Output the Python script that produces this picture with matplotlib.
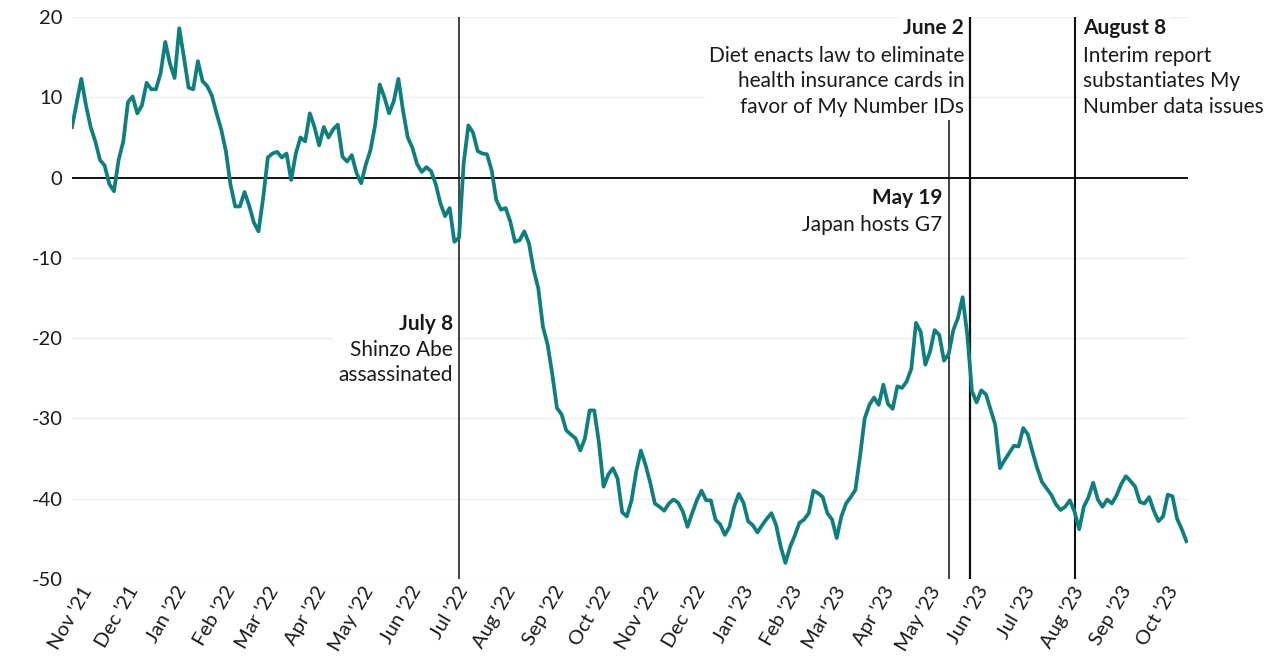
# import modules
import pandas as pd
import matplotlib
matplotlib.use('Agg')
import matplotlib.pyplot as plt
import matplotlib.transforms as mtrans

plt.close("all")
plt.rcParams['font.family'] = ['Lato', 'DejaVu Sans']
plt.rcParams['axes.unicode_minus'] = False

# series, every 3 days from Nov 1 2021
start = '2021-11-01'
values = [
    6.3, 9.3, 12.3, 9.0, 6.3, 4.5, 2.2, 1.5, -0.8, -1.7,
    2.2, 4.5, 9.4, 10.1, 8.0, 9.0, 11.8, 11.0, 11.0, 13.0,
    16.9, 14.2, 12.4, 18.6, 15.0, 11.2, 11.0, 14.5, 12.0, 11.4,
    10.2, 8.0, 6.0, 3.3, -0.9, -3.6, -3.6, -1.8, -3.5, -5.6,
    -6.7, -2.5, 2.5, 3.0, 3.2, 2.5, 3.0, -0.3, 3.0, 5.0,
    4.5, 8.0, 6.3, 4.0, 6.3, 5.0, 6.0, 6.6, 2.6, 2.0,
    2.8, 0.6, -0.7, 1.6, 3.4, 6.5, 11.6, 10.0, 8.0, 9.5,
    12.3, 8.3, 5.0, 3.7, 1.7, 0.7, 1.3, 0.8, -0.8, -3.2,
    -4.8, -3.8, -8.0, -7.5, 1.8, 6.5, 5.6, 3.3, 3.0, 2.9,
    0.9, -2.8, -4.0, -3.8, -5.5, -8.0, -7.8, -6.7, -8.2, -11.5,
    -13.8, -18.6, -20.8, -24.5, -28.7, -29.5, -31.5, -32.0, -32.5, -34.0,
    -32.5, -29.0, -29.0, -33.0, -38.5, -37.0, -36.2, -37.5, -41.7, -42.2,
    -40.2, -36.6, -34.0, -35.8, -38.0, -40.6, -41.0, -41.5, -40.6, -40.1,
    -40.5, -41.6, -43.5, -41.8, -40.2, -39.0, -40.2, -40.2, -42.6, -43.2,
    -44.5, -43.5, -41.0, -39.4, -40.5, -42.8, -43.3, -44.2, -43.3, -42.5,
    -41.8, -43.3, -46.0, -48.0, -46.0, -44.6, -43.0, -42.6, -41.8, -39.0,
    -39.3, -39.8, -41.8, -42.6, -44.9, -42.2, -40.6, -39.8, -38.9, -34.7,
    -30.0, -28.3, -27.4, -28.3, -25.8, -28.2, -28.8, -26.0, -26.2, -25.4,
    -23.8, -18.1, -19.2, -23.3, -21.7, -19.0, -19.6, -22.8, -22.0, -19.0,
    -17.5, -14.9, -19.6, -26.6, -28.0, -26.5, -27.0, -28.9, -30.8, -36.2,
    -35.2, -34.3, -33.4, -33.5, -31.2, -32.0, -34.2, -36.2, -37.9, -38.7,
    -39.5, -40.7, -41.4, -41.0, -40.2, -41.6, -43.8, -41.0, -39.8, -38.0,
    -40.1, -41.0, -40.1, -40.6, -39.6, -38.2, -37.2, -37.8, -38.5, -40.4,
    -40.6, -39.8, -41.5, -42.8, -42.2, -39.5, -39.7, -42.5, -43.8, -45.3,
]
dates = pd.date_range(start, periods=len(values), freq='3D')

# events
event_dates   = ['2022-07-08', '2023-05-19', '2023-06-02', '2023-08-08']
event_heads   = ['July 8', 'May 19', 'June 2', 'August 8']
event_bodies  = ['Shinzo Abe\nassassinated',
                 'Japan hosts G7',
                 'Diet enacts law to eliminate\nhealth insurance cards in\nfavor of My Number IDs',
                 'Interim report\nsubstantiates My\nNumber data issues']
event_head_y  = [-18.3, -2.6, 18.6, 18.6]
event_body_y  = [-23.0, -5.9, 12.0, 12.0]
event_side    = ['left', 'left', 'left', 'right']
event_lw      = [1.1, 1.1, 1.6, 1.5]

yticks = [20, 10, 0, -10, -20, -30, -40, -50]
month_ticks = pd.date_range('2021-11-01', '2023-10-01', freq='MS')

teal = '#0d807e'
ink = '#1a1a1a'
fs = 15

fig = plt.figure(figsize=(12.8, 6.65), dpi=100)
ax = fig.add_axes([72/1280, 1-579/665, 1116/1280, 562/665])

ax.plot(dates, values, color=teal, lw=2.7, zorder=5, solid_joinstyle='round')
ax.axhline(0, color='#111111', lw=1.4, zorder=3)

for d, lw in zip(event_dates, event_lw):
    ax.axvline(pd.Timestamp(d), color='#111111', lw=lw, zorder=3)

for d, head, body, hy, by, side in zip(event_dates, event_heads, event_bodies,
                                        event_head_y, event_body_y, event_side):
    dx = -4.5 if side == 'left' else 6
    ha = 'right' if side == 'left' else 'left'
    box = dict(facecolor='white', edgecolor='none', pad=2.8)
    ax.annotate(head, xy=(pd.Timestamp(d), hy), xytext=(dx, 0), textcoords='offset points',
                ha=ha, va='center', fontsize=fs, fontweight='bold', color=ink,
                bbox=box, zorder=4, annotation_clip=False)
    ax.annotate(body, xy=(pd.Timestamp(d), by), xytext=(dx, 0), textcoords='offset points',
                ha=ha, va='center', fontsize=fs, color=ink, linespacing=1.33,
                multialignment=ha, bbox=box, zorder=4, annotation_clip=False)

ax.set_ylim(-50, 20)
ax.set_xlim(pd.Timestamp('2021-11-01'), pd.Timestamp('2023-10-20'))
ax.set_yticks(yticks)
ax.set_yticklabels([str(t) for t in yticks])
ax.yaxis.grid(True, color='#eeeeee', lw=1)
ax.set_axisbelow(True)

ax.set_xticks(month_ticks)
ax.set_xticklabels([d.strftime("%b '%y") for d in month_ticks])
ax.tick_params(axis='both', length=0, colors=ink)
ax.tick_params(axis='y', pad=7, labelsize=14.5)
ax.tick_params(axis='x', pad=3, labelsize=14.5)
shift = mtrans.ScaledTranslation(6/72, 0, fig.dpi_scale_trans)
for lab in ax.get_xticklabels():
    lab.set_rotation(60)
    lab.set_ha('right')
    lab.set_rotation_mode('anchor')
    lab.set_transform(lab.get_transform() + shift)

for s in ax.spines.values():
    s.set_visible(False)

fig.savefig('out.png', dpi=100)
